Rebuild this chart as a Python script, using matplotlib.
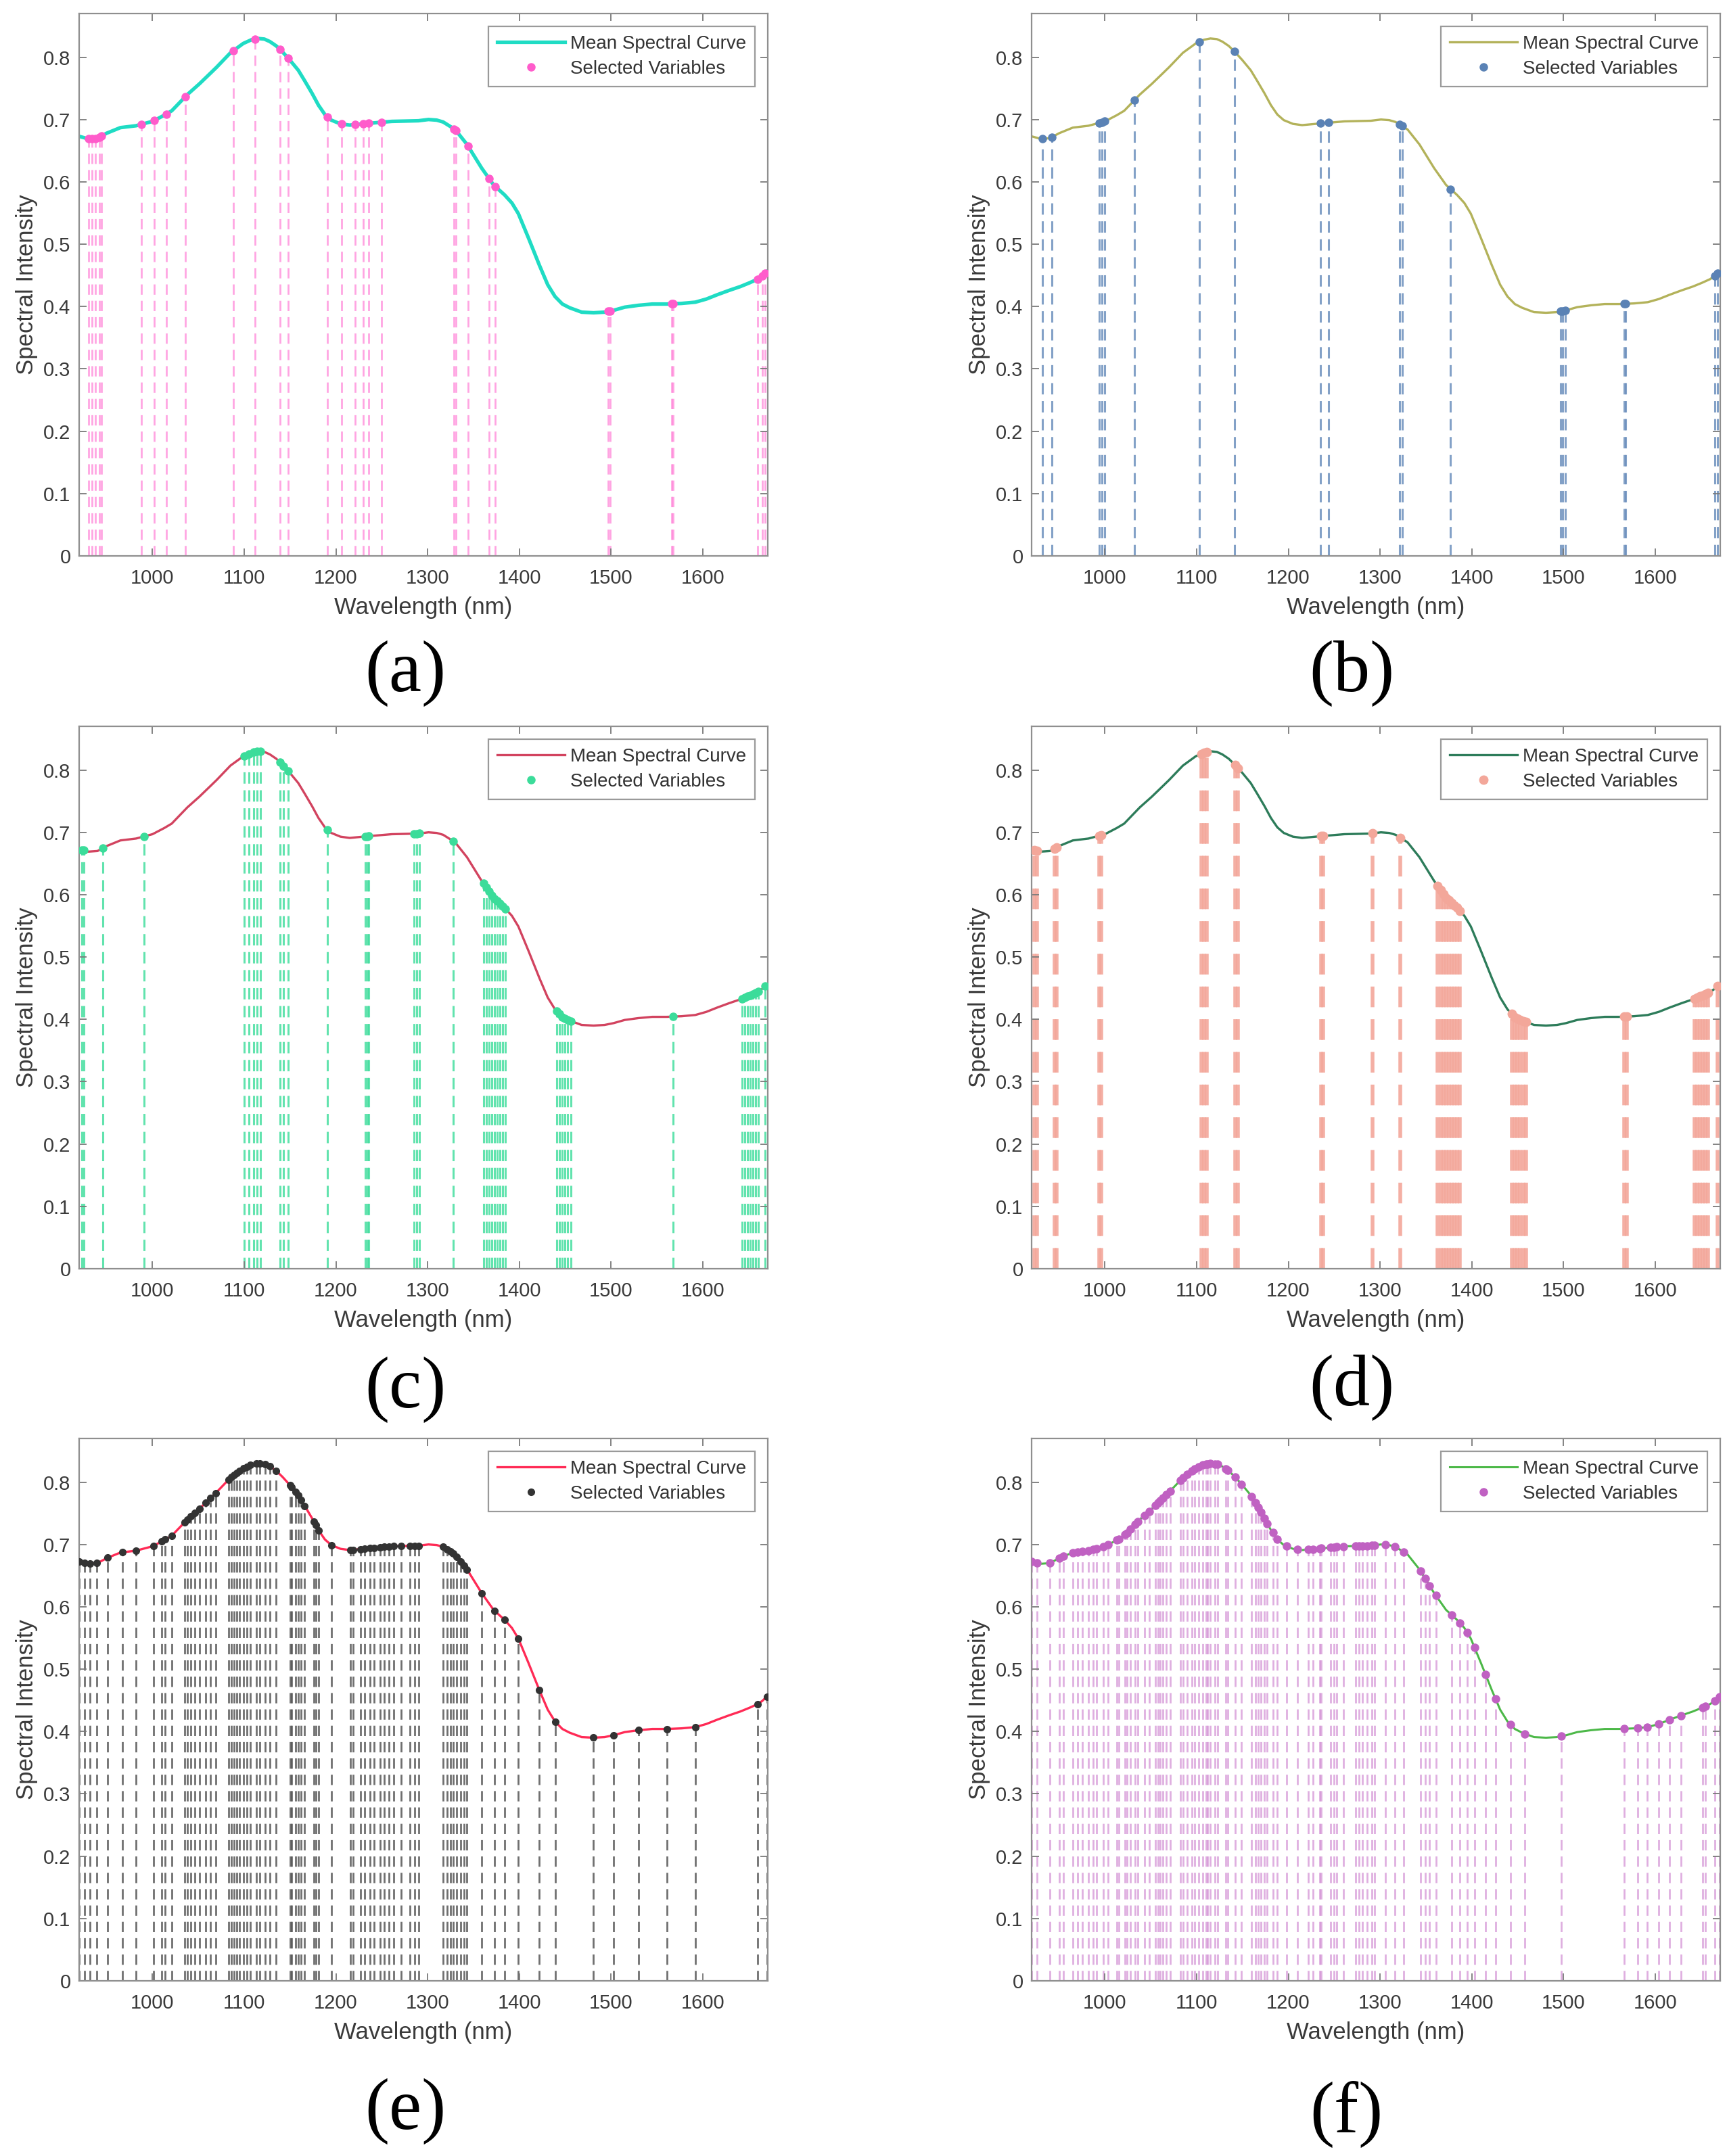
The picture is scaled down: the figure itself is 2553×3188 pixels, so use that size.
import numpy as np
import matplotlib
matplotlib.use("Agg")
import matplotlib.pyplot as plt

plt.rcParams["font.family"] = ["Liberation Sans", "DejaVu Sans"]

# mean spectrum (same curve in every panel)
wavelength = [920, 930, 940, 950, 965, 982, 1000, 1013, 1021, 1038, 1051, 1063, 1070,
              1085, 1099, 1108, 1115, 1122, 1128, 1135, 1142, 1150, 1159, 1166, 1174,
              1181, 1188, 1195, 1205, 1215, 1237, 1261, 1290, 1301, 1310, 1317, 1330,
              1343, 1359, 1372, 1384, 1392, 1399, 1410, 1422, 1431, 1439, 1447, 1455,
              1468, 1481, 1493, 1503, 1515, 1530, 1545, 1561, 1577, 1592, 1604, 1616,
              1629, 1641, 1651, 1660, 1665, 1670]
mean_spec = [0.673, 0.669, 0.670, 0.678, 0.687, 0.690, 0.697, 0.707, 0.714, 0.740, 0.757,
             0.774, 0.784, 0.807, 0.822, 0.828, 0.830, 0.829, 0.825, 0.818, 0.808, 0.795,
             0.779, 0.762, 0.742, 0.723, 0.708, 0.699, 0.693, 0.691, 0.694, 0.697, 0.698,
             0.700, 0.699, 0.696, 0.684, 0.660, 0.622, 0.595, 0.579, 0.566, 0.549, 0.510,
             0.466, 0.435, 0.416, 0.404, 0.398, 0.391, 0.390, 0.391, 0.394, 0.399, 0.402,
             0.404, 0.404, 0.405, 0.407, 0.412, 0.419, 0.426, 0.432, 0.438, 0.444, 0.449,
             0.456]

# selected wavelengths per method
sel_a = [930, 934, 938, 942, 944, 988, 1002, 1015, 1036, 1088, 1112, 1139, 1148, 1191,
         1206, 1221, 1230, 1236, 1250, 1329, 1331, 1344, 1367, 1374, 1497, 1499, 1566,
         1568, 1660, 1665, 1668]
sel_b = [932, 942, 994, 997, 1000, 1032, 1103, 1141, 1235, 1244, 1321, 1324, 1377, 1497,
         1499, 1502, 1566, 1568, 1665, 1668]
sel_c = [923, 925, 946, 991, 1100, 1105, 1110, 1114, 1118, 1139, 1143, 1148, 1191, 1232,
         1234, 1236, 1285, 1288, 1291, 1328, 1361, 1364, 1367, 1370, 1373, 1376, 1379,
         1382, 1385, 1441, 1444, 1447, 1450, 1453, 1456, 1568, 1643, 1646, 1649, 1652,
         1655, 1658, 1661, 1668]
sel_d = [923, 926, 945, 947, 994, 996, 1105, 1108, 1111, 1142, 1145, 1236, 1238, 1292,
         1322, 1363, 1366, 1369, 1372, 1375, 1378, 1381, 1384, 1387, 1444, 1447, 1450,
         1453, 1456, 1459, 1566, 1569, 1643, 1646, 1649, 1652, 1655, 1658, 1668]
sel_e = [920, 926, 932, 939, 951, 967, 982, 1001, 1010, 1014, 1021, 1035, 1038, 1042,
         1046, 1051, 1058, 1063, 1069, 1083, 1086, 1089, 1092, 1095, 1099, 1103, 1107,
         1113, 1117, 1123, 1128, 1135, 1150, 1152, 1156, 1159, 1162, 1166, 1176, 1178,
         1181, 1195, 1216, 1219, 1227, 1231, 1237, 1242, 1248, 1253, 1258, 1263, 1271,
         1281, 1286, 1290, 1317, 1321, 1325, 1328, 1332, 1336, 1340, 1343, 1359, 1373,
         1384, 1399, 1422, 1439, 1481, 1503, 1530, 1561, 1592, 1660, 1670]
sel_f = [920, 926, 940, 950, 955, 965, 970, 975, 982, 987, 991, 998, 1003, 1013, 1015,
         1022, 1024, 1028, 1033, 1036, 1043, 1048, 1055, 1058, 1060, 1063, 1067, 1071,
         1082, 1085, 1090, 1095, 1098, 1102, 1107, 1110, 1112, 1115, 1120, 1123, 1132,
         1134, 1142, 1149, 1160, 1164, 1167, 1170, 1174, 1177, 1183, 1188, 1198, 1210,
         1222, 1227, 1234, 1236, 1246, 1250, 1253, 1260, 1273, 1277, 1281, 1286, 1291,
         1294, 1306, 1316, 1326, 1344, 1349, 1354, 1361, 1378, 1387, 1395, 1403, 1415,
         1426, 1442, 1458, 1498, 1566, 1581, 1591, 1604, 1616, 1628, 1652, 1655, 1665,
         1670]

panel_labels = ["(a)", "(b)", "(c)", "(d)", "(e)", "(f)"]
x_ticks = [1000, 1100, 1200, 1300, 1400, 1500, 1600]
y_ticks = [0, 0.1, 0.2, 0.3, 0.4, 0.5, 0.6, 0.7, 0.8]
y_tick_labels = ["0", "0.1", "0.2", "0.3", "0.4", "0.5", "0.6", "0.7", "0.8"]

# (selection, curve colour, curve width, marker colour, marker size, vline width, vline alpha)
panels = [
    (sel_a, "#1fdcc4", 3.8, "#ff5ccb", 8, 2.0, 0.55),
    (sel_b, "#b3b25a", 2.4, "#5a82b5", 8, 2.2, 0.75),
    (sel_c, "#d2435f", 2.4, "#3bdc9a", 8, 2.2, 0.8),
    (sel_d, "#2d7c5a", 2.4, "#f3a79a", 9, 4.0, 0.9),
    (sel_e, "#ff2a55", 2.4, "#333333", 7, 2.0, 0.7),
    (sel_f, "#4cb848", 2.2, "#c061c2", 8, 2.0, 0.5),
]

W, H = 2553, 3188
fig = plt.figure(figsize=(W / 100, H / 100), dpi=100)

col_left = [117, 1525]
row_top = [20, 1074, 2127]
ax_w, ax_h = 1018, 802
label_pos = [(599, 996), (1998, 996), (599, 2055), (1998, 2052), (599, 3122), (1990, 3126)]

for i, (sel, c_line, lw_line, c_mark, ms, lw_v, a_v) in enumerate(panels):
    r, c = divmod(i, 2)
    left = col_left[c] / W
    bottom = 1 - (row_top[r] + ax_h) / H
    ax = fig.add_axes([left, bottom, ax_w / W, ax_h / H])

    ysel = np.interp(sel, wavelength, mean_spec)
    ax.vlines(sel, 0, ysel, colors=c_mark, linestyles=(0, (5.5, 3.2)),
              linewidth=lw_v, alpha=a_v, zorder=1)
    ax.plot(wavelength, mean_spec, color=c_line, lw=lw_line, zorder=2,
            label="Mean Spectral Curve")
    ax.plot(sel, ysel, "o", ls="none", color=c_mark, ms=ms, mec=c_mark, zorder=3,
            label="Selected Variables")

    ax.set_xlim(920, 1671)
    ax.set_ylim(0, 0.87)
    ax.set_xticks(x_ticks)
    ax.set_yticks(y_ticks)
    ax.set_yticklabels(y_tick_labels)
    ax.tick_params(direction="in", length=8, width=1.3, color="#7a7a7a",
                   labelsize=21, labelcolor="#3a3a3a", top=True, right=True)
    ax.tick_params(axis="x", pad=14)
    ax.tick_params(axis="y", pad=9)
    for s in ax.spines.values():
        s.set_color("#8f8f8f")
        s.set_linewidth(1.6)
    ax.set_xlabel("Wavelength (nm)", fontsize=25, color="#3a3a3a", labelpad=9)
    ax.set_ylabel("Spectral Intensity", fontsize=25, color="#3a3a3a", labelpad=6)

    leg = ax.legend(loc="upper right", fontsize=20, frameon=True, fancybox=False,
                    framealpha=1, edgecolor="#9a9a9a", handlelength=3.6,
                    handletextpad=0.3, labelspacing=0.4, borderpad=0.45,
                    borderaxespad=0.7)
    leg.get_frame().set_linewidth(1.6)
    for t in leg.get_texts():
        t.set_color("#333333")

    lx, ly = label_pos[i]
    fig.text(lx / W, 1 - ly / H, panel_labels[i], fontsize=78, ha="center", va="center",
             family=["Liberation Serif", "DejaVu Serif"])

fig.savefig("out.png", dpi=100)
